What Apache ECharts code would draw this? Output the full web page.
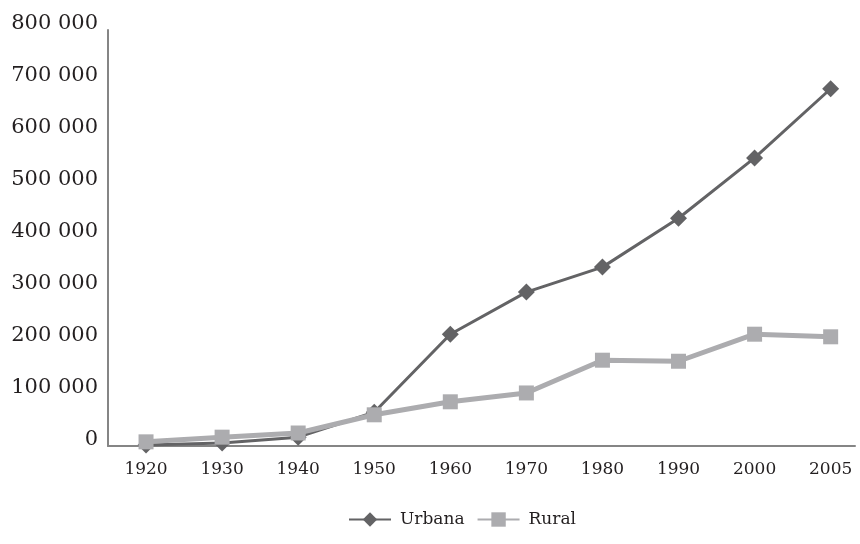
<!DOCTYPE html>
<html>
<head>
<meta charset="utf-8">
<script src="https://cdn.jsdelivr.net/npm/echarts@6/dist/echarts.min.js"></script>
<style>html,body{margin:0;padding:0;background:#fff}#c{width:860px;height:544px}</style>
</head>
<body>
<div id="c"></div>
<script>
const years = ['1920','1930','1940','1950','1960','1970','1980','1990','2000','2005'];
const urbana = [2000, 6000, 17000, 65000, 215000, 296000, 344000, 438000, 554000, 687000];
const rural = [8000, 17000, 25000, 60000, 85000, 102000, 165000, 163000, 215000, 210000];
const yTicks = [0, 100000, 200000, 300000, 400000, 500000, 600000, 700000, 800000];

const font = '"DejaVu Serif", serif';
const toPairs = arr => arr.map((v, i) => [i, v]);
const fmt = v => String(v).replace(/\B(?=(\d{3})+(?!\d))/g, ' ');

const chart = echarts.init(document.getElementById('c'));
chart.setOption({
  animation: false,
  backgroundColor: '#ffffff',
  grid: { left: 108, right: 5, top: 30, bottom: 98 },
  xAxis: {
    type: 'value',
    min: -0.5,
    max: 9.32,
    axisLine: { show: true, onZero: false, lineStyle: { color: '#858585', width: 2 } },
    axisTick: { show: false },
    splitLine: { show: false },
    axisLabel: {
      customValues: years.map((y, i) => i),
      formatter: v => years[Math.round(v)] || '',
      color: '#231f20', fontFamily: font, fontSize: 17, margin: 15
    }
  },
  yAxis: {
    type: 'value',
    min: yTicks[0],
    max: yTicks[yTicks.length - 1],
    interval: 100000,
    axisLine: { show: true, onZero: false, lineStyle: { color: '#858585', width: 2 } },
    axisTick: { show: false },
    splitLine: { show: false },
    axisLabel: {
      formatter: fmt,
      color: '#231f20', fontFamily: font, fontSize: 21, margin: 10,
      verticalAlign: 'bottom',
      lineHeight: 12
    }
  },
  legend: {
    top: 506,
    left: 343,
    itemWidth: 42,
    itemHeight: 18,
    itemGap: 12,
    textStyle: { color: '#231f20', fontFamily: font, fontSize: 17, padding: [0, 0, 0, 4] },
    data: ['Urbana', 'Rural']
  },
  series: [
    {
      name: 'Urbana', type: 'line',
      data: toPairs(urbana),
      symbol: 'diamond', symbolSize: 17,
      lineStyle: { color: '#636365', width: 3 },
      itemStyle: { color: '#636365' },
      z: 2
    },
    {
      name: 'Rural', type: 'line',
      data: toPairs(rural),
      symbol: 'rect', symbolSize: 15,
      lineStyle: { color: '#acacaf', width: 5 },
      itemStyle: { color: '#acacaf' },
      z: 3
    }
  ]
});
</script>
</body>
</html>
